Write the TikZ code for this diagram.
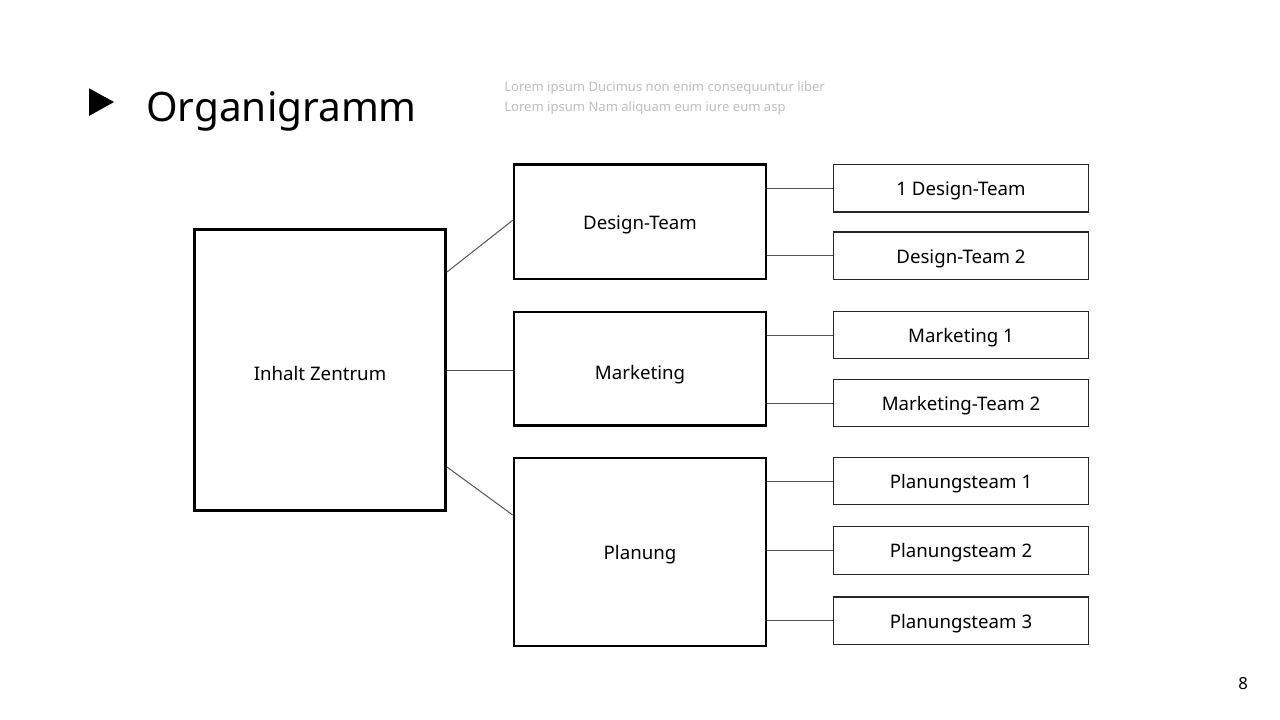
\documentclass[tikz,border=0pt]{standalone}
\usepackage{fontspec}
\setmainfont{Noto Sans}
\usetikzlibrary{calc}
\definecolor{loremgray}{RGB}{190,190,190}
\definecolor{linegray}{RGB}{85,85,85}
\tikzset{
  lbl/.style={font=\fontsize{14pt}{16pt}\selectfont, text height=1.34em, text depth=0.2em, inner sep=0pt, align=center},
  lowlbl/.style={text height=1.8em},
  bigbox/.style={lbl, draw=black, line width=2.6pt, fill=white},
  midbox/.style={lbl, draw=black, line width=2pt, fill=white, minimum width=252*0.75pt},
  smallbox/.style={lbl, draw=black!85, line width=0.9pt, fill=white, minimum width=254.5*0.75pt, minimum height=47.7*0.75pt},
  conn/.style={draw=linegray, line width=0.75pt},
}
\begin{document}
\begin{tikzpicture}[x=0.75pt,y=-0.75pt]
\useasboundingbox (0,0) rectangle (1280,720);
\fill[white] (0,0) rectangle (1280,720);
% title
\fill[black] (89,88.3) -- (114,102) -- (89,116) -- cycle;
\node[anchor=base west, inner sep=0pt, font=\fontsize{30.4pt}{36pt}\selectfont] (title) at (146,122) {Organigramm};
\node[anchor=base west, inner sep=0pt, text=loremgray, font=\fontsize{9.8pt}{12pt}\selectfont] (lorem1) at (504,91.5) {Lorem ipsum Ducimus non enim consequuntur liber};
\node[anchor=base west, inner sep=0pt, text=loremgray, font=\fontsize{9.8pt}{12pt}\selectfont] (lorem2) at (504,111.5) {Lorem ipsum Nam aliquam eum iure eum asp};
% boxes
\node[bigbox, lowlbl, minimum width=250.5*0.75pt, minimum height=280.5*0.75pt] (c) at (320,370) {Inhalt Zentrum};
\node[midbox, minimum height=114.3*0.75pt] (d) at (640,221.8) {Design-Team};
\node[midbox, lowlbl, minimum height=113.5*0.75pt] (m) at (640,368.7) {Marketing};
\node[midbox, minimum height=188*0.75pt] (p) at (640,552) {Planung};
\node[smallbox] (d1) at (961,188.2) {1 Design-Team};
\node[smallbox] (d2) at (961,255.8) {Design-Team 2};
\node[smallbox] (m1) at (961,335) {Marketing 1};
\node[smallbox] (m2) at (961,403) {Marketing-Team 2};
\node[smallbox] (p1) at (961,481) {Planungsteam 1};
\node[smallbox] (p2) at (961,550.3) {Planungsteam 2};
\node[smallbox] (p3) at (961,620.8) {Planungsteam 3};
% connectors
\draw[conn] ($(c.east)+(0,-98)$) -- ($(d.west)+(0,-1.5)$);
\draw[conn] (c.east) -- (c.east -| m.west);
\draw[conn] ($(c.east)+(0,97)$) -- ($(p.west)+(0,-37)$);
\foreach \s/\b in {d1/d,d2/d,m1/m,m2/m,p1/p,p2/p,p3/p}
  \draw[conn] (\s.west) -- (\s.west -| \b.east);
% page number
\node[inner sep=0pt, font=\fontsize{12.5pt}{14pt}\selectfont] (page) at (1243,684) {8};
\end{tikzpicture}
\end{document}
